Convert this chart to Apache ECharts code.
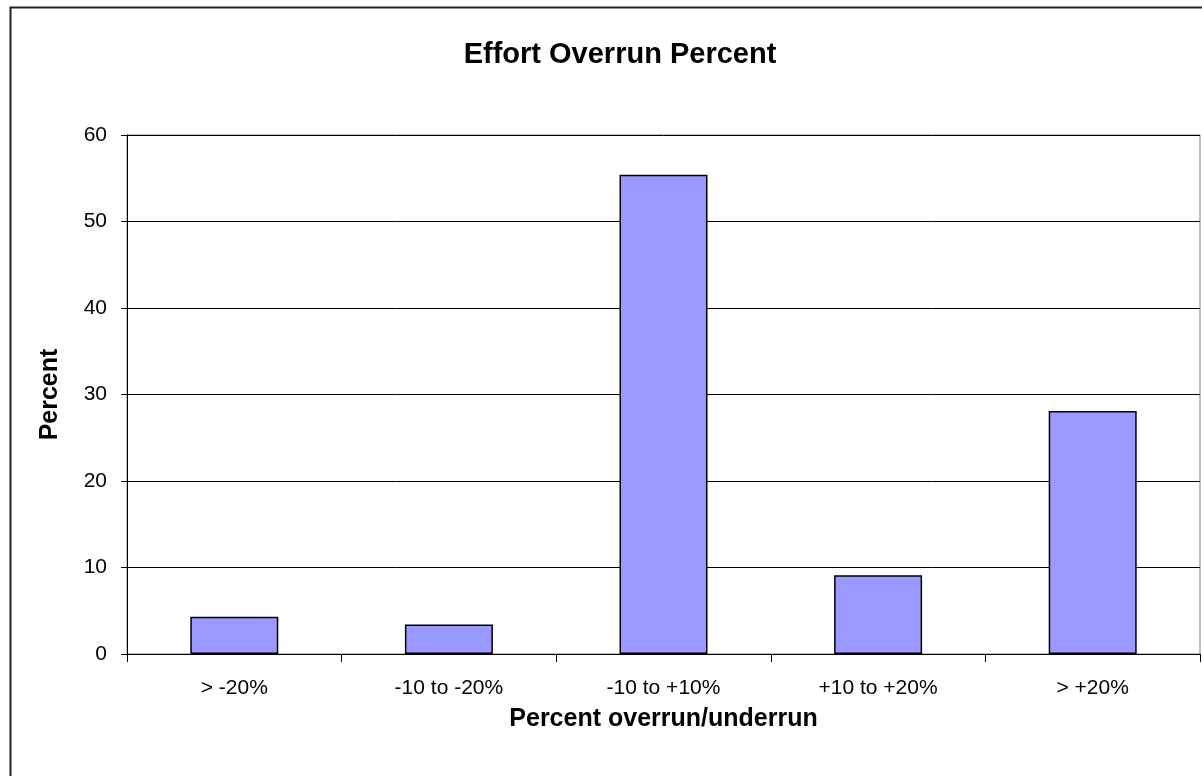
<!DOCTYPE html>
<html>
<head>
<meta charset="utf-8">
<script src="https://cdn.jsdelivr.net/npm/echarts@6/dist/echarts.min.js"></script>
<style>
  html, body { margin: 0; padding: 0; background: #ffffff; }
  #chart { width: 1202px; height: 776px; }
</style>
</head>
<body>
<div id="chart"></div>
<script>
// Share of projects by effort overrun/underrun band
const categories = ['> -20%', '-10 to -20%', '-10 to +10%', '+10 to +20%', '> +20%'];
const percentValues = [4.3, 3.4, 55.4, 9.1, 28.1];
const yTicks = { min: 0, max: 60, interval: 10 };

const font = '"Liberation Sans", Arial, sans-serif';
const chart = echarts.init(document.getElementById('chart'), null, { renderer: 'canvas' });

chart.setOption({
  backgroundColor: '#ffffff',
  animation: false,
  title: {
    text: 'Effort Overrun Percent',
    left: 615,
    textAlign: 'center',
    top: 35,
    textStyle: { fontFamily: font, fontSize: 29, fontWeight: 'bold', color: '#000' }
  },
  graphic: [{
    // outer chart frame
    type: 'rect',
    left: 8, top: 5,
    shape: { width: 1300, height: 900 },
    style: { fill: null, stroke: '#222', lineWidth: 2 },
    silent: true
  }],
  grid: {
    left: 127, right: 2, top: 135, bottom: 122,
    show: true, borderColor: '#808080', borderWidth: 1, backgroundColor: 'transparent'
  },
  xAxis: {
    type: 'category',
    data: categories,
    name: 'Percent overrun/underrun',
    nameLocation: 'middle',
    nameGap: 53,
    nameTextStyle: { fontFamily: font, fontSize: 25, fontWeight: 'bold', color: '#000' },
    axisLine: { lineStyle: { color: '#000', width: 1 } },
    axisTick: { show: true, length: 8, lineStyle: { color: '#000' } },
    axisLabel: { fontFamily: font, fontSize: 21, color: '#000', margin: 24 },
    splitLine: { show: false }
  },
  yAxis: {
    type: 'value',
    min: yTicks.min, max: yTicks.max, interval: yTicks.interval,
    name: 'Percent',
    nameLocation: 'middle',
    nameGap: 64,
    nameRotate: 90,
    nameTextStyle: { fontFamily: font, fontSize: 25, fontWeight: 'bold', color: '#000' },
    axisLine: { show: true, lineStyle: { color: '#000', width: 1 } },
    axisTick: { show: true, length: 6, lineStyle: { color: '#000' } },
    axisLabel: { fontFamily: font, fontSize: 21, color: '#000', margin: 20 },
    splitLine: { show: true, lineStyle: { color: '#000', width: 1 } }
  },
  series: [{
    type: 'bar',
    data: percentValues,
    barWidth: 88,
    itemStyle: { color: '#9999FF', borderColor: '#000', borderWidth: 1.5 }
  }]
});
</script>
</body>
</html>
